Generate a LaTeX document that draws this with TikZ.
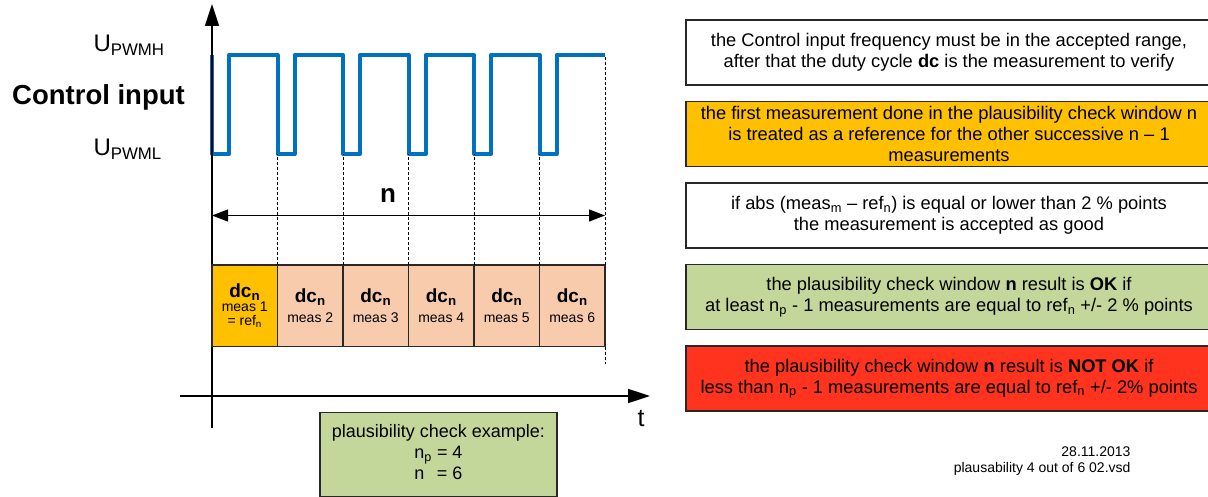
\documentclass[tikz,border=0pt]{standalone}
\usepackage{fontspec}
\setmainfont{Liberation Sans}
\usetikzlibrary{positioning, arrows.meta}
\definecolor{sigblue}{RGB}{0,112,192}
\definecolor{refamber}{RGB}{255,192,0}
\definecolor{measpeach}{RGB}{248,203,173}
\definecolor{okgreen}{RGB}{196,215,155}
\definecolor{nokred}{RGB}{255,51,30}
\definecolor{boxline}{RGB}{40,40,40}
\newcommand{\idx}[1]{\textsubscript{#1}}
\newcommand{\px}[2]{\fontsize{#1}{#2}\selectfont}
\newcommand{\dcn}{\bfseries\px{19}{19}dc\idx{n}}
\newcommand{\measfont}{\mdseries\px{14}{16}}
\tikzset{
axis/.style={line width=1.6pt, -{Triangle[length=22pt,width=14pt]}}, % time and level axes
signal/.style={line width=4pt, sigblue, line join=round}, % the PWM control input
grid line/.style={densely dashed, line width=0.7pt}, % period markers
span/.style={line width=1.3pt, {Triangle[length=16pt,width=12pt]}-{Triangle[length=16pt,width=12pt]}}, % window n
measbox/.style={draw=boxline, line width=1.2pt, fill=measpeach, minimum width=65.5pt, minimum height=81.5pt, inner sep=0pt, outer sep=0pt, align=center}, % one dc measurement
notebox/.style={draw=boxline, line width=1.2pt, minimum width=526pt, minimum height=65pt, inner sep=2pt, outer sep=0pt, align=center, font=\px{18.3}{21}}, % explanation on the right
}

\begin{document}
\begin{tikzpicture}[x=1pt, y=-1pt]
    \useasboundingbox (0,0) rectangle (1208,497);

    % signal
    \draw[signal] (212,55) -- (212,154)
        \foreach \k in {0,...,4} { -- ({229+65.5*\k},154) -- ({229+65.5*\k},55) -- ({277.5+65.5*\k},55) -- ({277.5+65.5*\k},154) }
        -- (556.5,154) -- (556.5,55) -- (605,55);

    % axes
    \coordinate (ybot) at (212,428);
    \coordinate (ytop) at (212,4);
    \coordinate (xleft) at (180,396);
    \coordinate (xright) at (650,396);
    \draw[axis] (ybot) -- (ytop);
    \draw[axis] (xleft) -- (xright);
    \node[font=\px{25}{25}] (t) at (641,419) {t};

    \node[anchor=west, font=\px{24}{24}] (uh) at (90,45) {U\idx{PWMH}};
    \node[font=\bfseries\px{27.5}{27.5}] (ctrl) at (98.5,97) {Control input};
    \node[anchor=west, font=\px{24}{24}] (ul) at (90,149) {U\idx{PWML}};

    % measurements
    \node[measbox, fill=refamber] (m1) at (244.75,305.75) {\dcn\\[1pt]\measfont meas 1\\[2pt]\measfont = ref\idx{n}};
    \node[measbox, right=0pt of m1] (m2) {\dcn\\[6pt]\measfont meas 2};
    \node[measbox, right=0pt of m2] (m3) {\dcn\\[6pt]\measfont meas 3};
    \node[measbox, right=0pt of m3] (m4) {\dcn\\[6pt]\measfont meas 4};
    \node[measbox, right=0pt of m4] (m5) {\dcn\\[6pt]\measfont meas 5};
    \node[measbox, right=0pt of m5] (m6) {\dcn\\[6pt]\measfont meas 6};
    \foreach \k in {1,...,6}
        \draw[grid line] (m\k.north east) -- ++(0,-111);
    \draw[grid line] (m6.north east) -- ++(0,-210);
    \draw[grid line] (m6.south east) -- ++(0,17);

    % window n
    \coordinate (nleft) at (212,215.5);
    \coordinate (nright) at (605,215.5);
    \draw[span] (nleft) -- (nright);
    \node[font=\bfseries\px{26}{26}] (nlabel) at (388,195) {n};

    \node[draw=boxline, line width=1.2pt, fill=okgreen, minimum width=237pt, minimum height=84pt, align=center, font=\px{18}{21}] (example) at (438.5,454.5) {plausibility check example:\\n\idx{p} = 4\\n\phantom{\idx{p}} = 6};

    % explanations
    \node[notebox] (freq) at (949,52.5) {the Control input frequency must be in the accepted range,\\after that the duty cycle \textbf{dc} is the measurement to verify};
    \node[notebox, fill=refamber, below=16.5pt of freq] (first) {the first measurement done in the plausibility check window n\\is treated as a reference for the other successive n -- 1\\measurements};
    \node[notebox, below=16.5pt of first] (abs) {if abs (meas\idx{m} -- ref\idx{n}) is equal or lower than 2 \% points\\the measurement is accepted as good};
    \node[notebox, fill=okgreen, below=16.5pt of abs] (ok) {the plausibility check window \textbf{n} result is \textbf{OK} if\\at least n\idx{p} - 1 measurements are equal to ref\idx{n} +/- 2 \% points};
    \node[notebox, fill=nokred, below=16.5pt of ok] (nok) {the plausibility check window \textbf{n} result is \textbf{NOT OK} if\\less than n\idx{p} - 1 measurements are equal to ref\idx{n} +/- 2\% points};

    \node[anchor=north east, align=right, font=\px{14}{16}] (stamp) at (1134,443) {28.11.2013\\plausability 4 out of 6 02.vsd};
\end{tikzpicture}
\end{document}
